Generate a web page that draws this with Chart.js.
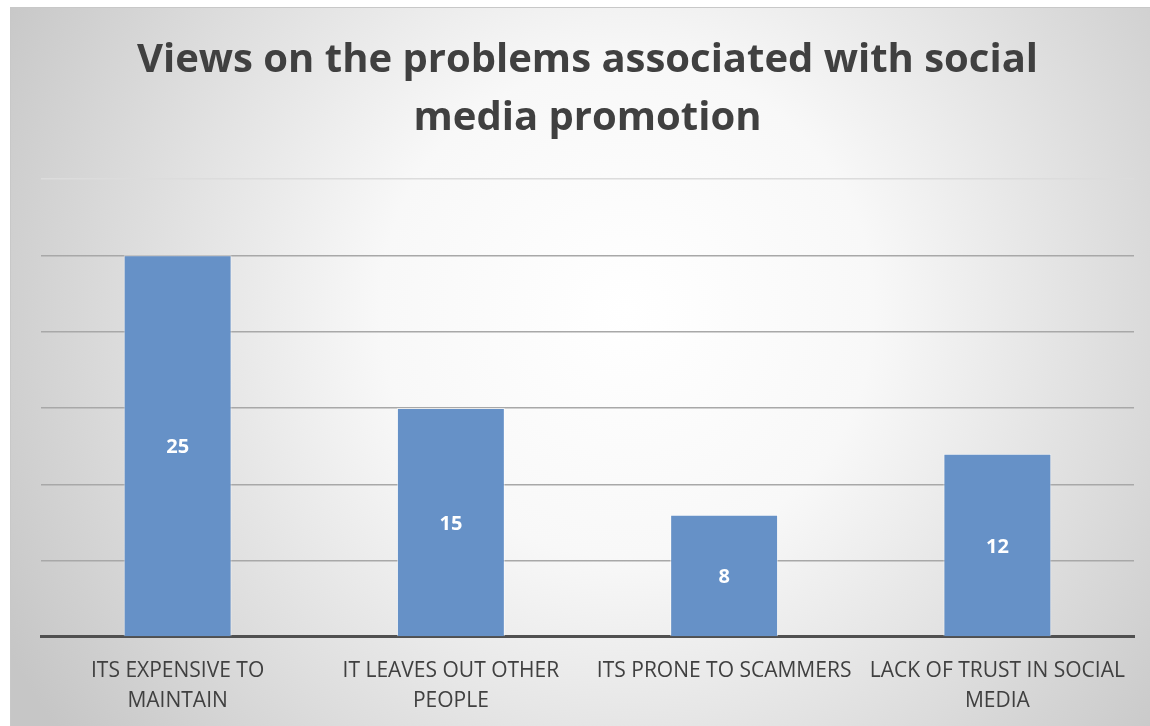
<!DOCTYPE html>
<html>
<head>
<meta charset="utf-8">
<script src="https://cdn.jsdelivr.net/npm/chart.js@4.4.1/dist/chart.umd.min.js"></script>
<style>
  html, body { margin: 0; padding: 0; background: #fff; }
  #wrap {
    position: absolute; left: 10px; top: 7px;
    width: 1140px; height: 719px;
    border-top: 1px solid #c8c8c8; border-left: 1px solid #c8c8c8;
  }
</style>
</head>
<body>
<div id="wrap"><canvas id="chart" width="1140" height="719"></canvas></div>
<script>
Chart.defaults.font.family = "'Open Sans', 'Noto Sans', sans-serif";

const categories = [
  ['ITS EXPENSIVE TO', 'MAINTAIN'],
  ['IT LEAVES OUT OTHER', 'PEOPLE'],
  ['ITS PRONE TO SCAMMERS'],
  ['LACK OF TRUST IN SOCIAL', 'MEDIA']
];
const values = [25, 15, 8, 12];
const titleLines = ['Views on the problems associated with social', 'media promotion'];

// radial grey background, white near the middle
const bgPlugin = {
  id: 'bg',
  beforeDraw(chart) {
    const { ctx, width, height } = chart;
    const g = ctx.createRadialGradient(width * 0.54, height * 0.42, 0, width * 0.54, height * 0.42, width * 0.62);
    g.addColorStop(0, '#ffffff');
    g.addColorStop(0.35, '#f8f8f8');
    g.addColorStop(1, '#c6c6c6');
    ctx.save();
    ctx.fillStyle = g;
    ctx.fillRect(0, 0, width, height);
    ctx.restore();
  }
};

// value labels in the middle of each bar
const valueLabels = {
  id: 'valueLabels',
  afterDatasetsDraw(chart) {
    const { ctx } = chart;
    const meta = chart.getDatasetMeta(0);
    ctx.save();
    ctx.fillStyle = '#ffffff';
    ctx.font = "bold 20px 'Open Sans', sans-serif";
    ctx.textAlign = 'center';
    ctx.textBaseline = 'middle';
    meta.data.forEach((bar, i) => {
      ctx.fillText(values[i], bar.x, (bar.y + bar.base) / 2 + 2);
    });
    ctx.restore();
  }
};

new Chart(document.getElementById('chart'), {
  type: 'bar',
  data: {
    labels: categories,
    datasets: [{
      data: values,
      backgroundColor: '#6691c7',
      borderColor: 'rgba(255,255,255,0.55)',
      borderWidth: { left: 1, right: 1, top: 1, bottom: 0 },
      categoryPercentage: 1,
      barPercentage: 0.395
    }]
  },
  options: {
    responsive: false,
    animation: false,
    layout: { padding: { left: 30, right: 17, top: 24, bottom: -8 } },
    plugins: {
      legend: { display: false },
      tooltip: { enabled: false },
      title: {
        display: true,
        text: titleLines,
        color: '#404040',
        font: { size: 40, weight: 'bold', lineHeight: 1.45 },
        padding: { top: 0, bottom: 31 }
      }
    },
    scales: {
      x: {
        grid: { display: false, drawTicks: false },
        border: { color: '#505050', width: 3 },
        ticks: {
          color: '#404040',
          padding: 19,
          maxRotation: 0,
          font: { size: 21, lineHeight: 1.43 }
        }
      },
      y: {
        min: 0,
        max: 30,
        ticks: { display: false, stepSize: 5 },
        border: { display: false },
        grid: {
          drawTicks: false,
          lineWidth: 1.5,
          color: c => c.tick.value === 30 ? '#dcdcdc' : '#a8a8a8'
        }
      }
    }
  },
  plugins: [bgPlugin, valueLabels]
});
</script>
</body>
</html>
